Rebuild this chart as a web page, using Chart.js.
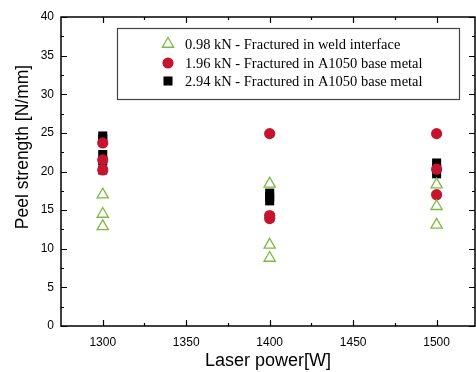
<!DOCTYPE html>
<html>
<head>
<meta charset="utf-8">
<script src="https://cdn.jsdelivr.net/npm/chart.js@4.4.1/dist/chart.umd.min.js"></script>
<style>
  html, body { margin: 0; padding: 0; background: #fff; }
  #wrap { width: 476px; height: 372px; overflow: hidden; }
</style>
</head>
<body>
<div id="wrap"><canvas id="chart" width="476" height="372"></canvas></div>
<script>
// data
const triPower = [1300, 1300, 1300, 1400, 1400, 1400, 1500, 1500, 1500];
const triPeel = [17.0, 14.5, 12.9, 18.4, 10.5, 8.8, 18.3, 15.5, 13.1];
const circPower = [1300, 1300, 1300, 1400, 1400, 1400, 1500, 1500, 1500];
const circPeel = [23.7, 21.5, 20.2, 24.9, 14.3, 13.9, 24.9, 20.3, 17.0];
const sqPower = [1300, 1300, 1300, 1300, 1300, 1400, 1400, 1400, 1500, 1500, 1500];
const sqPeel = [24.6, 24.2, 22.2, 21.4, 20.2, 17.2, 16.7, 16.2, 21.1, 20.4, 19.7];

const xTicks = [1300, 1350, 1400, 1450, 1500];
const yTicks = [0, 5, 10, 15, 20, 25, 30, 35, 40];

const labels = [
    '0.98 kN - Fractured in weld interface',
    '1.96 kN - Fractured in A1050 base metal',
    '2.94 kN - Fractured in A1050 base metal',
];

const green = '#7dba44';
const red = '#c5142d';

const pts = (xs, ys) => xs.map((x, i) => ({ x, y: ys[i] }));

// frame, inward ticks, y title
const framePlugin = {
    id: 'frame',
    afterDraw(chart) {
        const { ctx, chartArea: a } = chart;
        const xs = chart.scales.x, ys = chart.scales.y;
        ctx.save();
        ctx.strokeStyle = '#000';
        ctx.lineWidth = 1.5;
        ctx.strokeRect(a.left, a.top, a.right - a.left, a.bottom - a.top);
        ctx.lineWidth = 1.2;
        const xMajor = xTicks, yMajor = yTicks;
        const xMinor = xMajor.slice(0, -1).map((v, i) => (v + xMajor[i + 1]) / 2);
        const yMinor = yMajor.slice(0, -1).map((v, i) => (v + yMajor[i + 1]) / 2);
        ctx.beginPath();
        const xt = (v, len) => {
            const p = Math.round(xs.getPixelForValue(v)) + 0.5;
            ctx.moveTo(p, a.bottom); ctx.lineTo(p, a.bottom - len);
            ctx.moveTo(p, a.top); ctx.lineTo(p, a.top + len);
        };
        const yt = (v, len) => {
            const p = Math.round(ys.getPixelForValue(v)) + 0.5;
            ctx.moveTo(a.left, p); ctx.lineTo(a.left + len, p);
            ctx.moveTo(a.right, p); ctx.lineTo(a.right - len, p);
        };
        xMajor.forEach(v => xt(v, 6));
        xMinor.forEach(v => xt(v, 3));
        yMajor.forEach(v => yt(v, 6));
        yMinor.forEach(v => yt(v, 3));
        ctx.stroke();

        // y axis title, set a little above the middle like the original
        ctx.translate(23, 147);
        ctx.rotate(-Math.PI / 2);
        ctx.fillStyle = '#000';
        ctx.font = '17.5px "Liberation Sans", Arial, sans-serif';
        ctx.textAlign = 'center';
        ctx.textBaseline = 'middle';
        ctx.fillText('Peel strength [N/mm]', 0, 0);
        ctx.restore();
    }
};

// boxed legend inside the plot
const boxLegend = {
    id: 'boxLegend',
    afterDraw(chart) {
        const { ctx } = chart;
        ctx.save();
        ctx.strokeStyle = '#444';
        ctx.lineWidth = 1.2;
        ctx.strokeRect(117.5, 28.5, 342, 71);
        ctx.font = '14.5px "Liberation Serif", "Times New Roman", serif';
        ctx.textBaseline = 'middle';
        ctx.fillStyle = '#000';
        const rowY = [44, 63, 81];
        chart.data.datasets.forEach((ds, i) => {
            ctx.save();
            ctx.strokeStyle = ds.borderColor;
            ctx.fillStyle = ds.backgroundColor;
            ctx.lineWidth = ds.borderWidth;
            Chart.helpers.drawPoint(ctx, {
                pointStyle: ds.pointStyle,
                radius: ds.pointRadius,
                borderWidth: ds.borderWidth,
            }, 168, rowY[i]);
            ctx.restore();
            ctx.fillText(ds.label, 185, rowY[i] + 1);
        });
        ctx.restore();
    }
};

const ctx = document.getElementById('chart').getContext('2d');
const chart = new Chart(ctx, {
    type: 'scatter',
    data: {
        datasets: [
            {
                label: labels[0],
                data: pts(triPower, triPeel),
                pointStyle: 'triangle',
                pointRadius: 6.5,
                borderColor: green,
                backgroundColor: 'rgba(0,0,0,0)',
                borderWidth: 1.3,
            },
            {
                label: labels[1],
                data: pts(circPower, circPeel),
                pointStyle: 'circle',
                pointRadius: 5.6,
                borderColor: red,
                backgroundColor: red,
                borderWidth: 0,
            },
            {
                label: labels[2],
                data: pts(sqPower, sqPeel),
                pointStyle: 'rect',
                pointRadius: 6.4,
                borderColor: '#000',
                backgroundColor: '#000',
                borderWidth: 0,
            },
        ],
    },
    options: {
        responsive: false,
        animation: false,
        layout: { autoPadding: false, padding: { top: 17, right: 1, left: 0, bottom: 0 } },
        plugins: {
            legend: { display: false },
            tooltip: { enabled: false },
        },
        scales: {
            x: {
                type: 'linear',
                min: 1275,
                max: 1523,
                afterBuildTicks: s => { s.ticks = xTicks.map(v => ({ value: v })); },
                afterFit: s => { s.height = 46; s.paddingLeft = 0; s.paddingRight = 0; },
                grid: { display: false, drawTicks: false },
                border: { display: false },
                ticks: {
                    color: '#000',
                    padding: 9,
                    maxRotation: 0,
                    callback: v => String(v),
                    font: { family: '"Liberation Sans", Arial, sans-serif', size: 12 },
                },
                title: {
                    display: true,
                    text: 'Laser power[W]',
                    color: '#000',
                    padding: { top: 0, bottom: 0 },
                    font: { family: '"Liberation Sans", Arial, sans-serif', size: 18 },
                },
            },
            y: {
                min: 0,
                max: 40,
                afterBuildTicks: s => { s.ticks = yTicks.map(v => ({ value: v })); },
                afterFit: s => { s.width = 61; s.paddingTop = 0; s.paddingBottom = 0; },
                grid: { display: false, drawTicks: false },
                border: { display: false },
                ticks: {
                    color: '#000',
                    padding: 7,
                    font: { family: '"Liberation Sans", Arial, sans-serif', size: 12 },
                },
            },
        },
    },
    plugins: [framePlugin, boxLegend],
});
</script>
</body>
</html>
